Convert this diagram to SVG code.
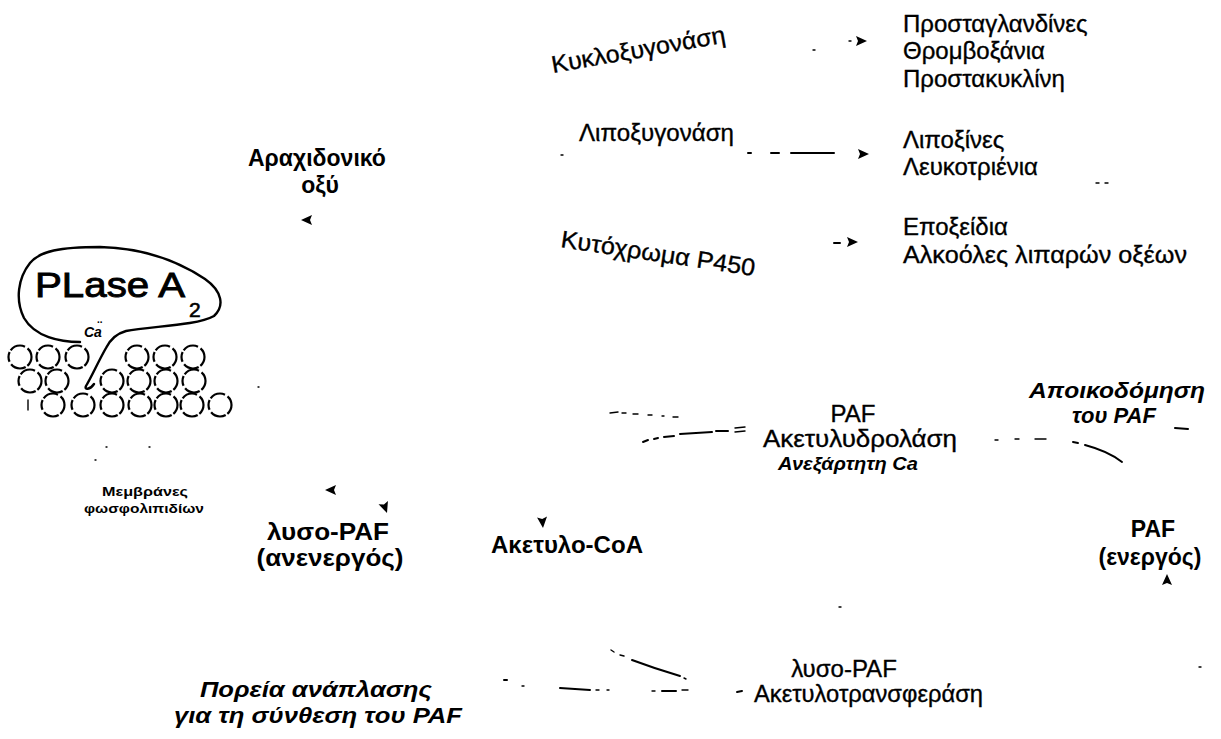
<svg xmlns="http://www.w3.org/2000/svg" width="1221" height="739" viewBox="0 0 1221 739">
  <defs>
    <style>
      .t { font-family: "Liberation Sans", Arial, "DejaVu Sans", sans-serif; fill: #000; }
      .r { font-size: 24px; stroke: #000; stroke-width: 0.35; }
      .b { font-size: 23px; font-weight: bold; }
      .bi { font-size: 22px; font-weight: bold; font-style: italic; }
      .sm { font-size: 13px; font-weight: bold; }
      .dash { stroke: #000; stroke-width: 2; fill: none; stroke-linecap: round; }
      .thin { stroke: #000; stroke-width: 1.4; fill: none; stroke-linecap: round; }
      .cell { stroke: #000; stroke-width: 2.2; fill: none; stroke-dasharray: 10 2 16 3; }
      .blob { stroke: #000; stroke-width: 2.4; fill: none; stroke-linecap: round; stroke-linejoin: round; }
    </style>
    <!-- small solid arrowhead, tip at origin pointing along +x -->
    <path id="ah" d="M0,0 L-11,-5 L-9,0 L-11,5 Z" fill="#000"/>
  </defs>

  <rect width="1221" height="739" fill="#fff"/>

  <!-- phospholipase A2 sitting on the membrane bilayer -->
  <g id="plase">
    <path class="blob" d="M80,342 C60,342 35,337 24,318 C15,300 18,278 30,263 C40,251 60,247 100,247 C140,248 175,259 205,279 C222,291 225,306 214,316 C196,326 150,326 126,331 C115,334 110,340 106,348 C98,362 92,376 86,386 C84,390 90,390 94,384"/>
    <text class="t" x="35" y="297" font-size="35" stroke="#000" stroke-width="0.9" textLength="150" lengthAdjust="spacingAndGlyphs">PLase A</text>
    <text class="t" x="189" y="317" font-size="21" stroke="#000" stroke-width="0.6">2</text>
    <text class="t" x="84" y="337" font-size="14" font-weight="bold" font-style="italic">Ca</text>
    <text class="t" x="97" y="323" font-size="10" font-weight="bold">..</text>
  </g>

  <g id="membrane">
    <circle class="cell" cx="20" cy="357" r="11.5"/>
    <circle class="cell" cx="48" cy="357" r="11.5"/>
    <circle class="cell" cx="77" cy="357" r="11.5"/>
    <circle class="cell" cx="137" cy="357" r="11.5"/>
    <circle class="cell" cx="165" cy="357" r="11.5"/>
    <circle class="cell" cx="193" cy="357" r="11.5"/>
    <circle class="cell" cx="30" cy="381" r="11.5"/>
    <circle class="cell" cx="57" cy="381" r="11.5"/>
    <circle class="cell" cx="112" cy="381" r="11.5"/>
    <circle class="cell" cx="139" cy="381" r="11.5"/>
    <circle class="cell" cx="166" cy="381" r="11.5"/>
    <circle class="cell" cx="194" cy="381" r="11.5"/>
    <circle class="cell" cx="53" cy="405" r="11.5"/>
    <circle class="cell" cx="83" cy="405" r="11.5"/>
    <circle class="cell" cx="112" cy="405" r="11.5"/>
    <circle class="cell" cx="140" cy="405" r="11.5"/>
    <circle class="cell" cx="166" cy="405" r="11.5"/>
    <circle class="cell" cx="192" cy="405" r="11.5"/>
    <circle class="cell" cx="220" cy="405" r="11.5"/>
    <line class="thin" x1="28" y1="400" x2="28" y2="410"/>
  </g>

  <g id="membranes-label">
    <text class="t sm" x="145" y="496" text-anchor="middle" textLength="86" lengthAdjust="spacingAndGlyphs">Μεμβράνες</text>
    <text class="t sm" x="144" y="513" text-anchor="middle" textLength="120" lengthAdjust="spacingAndGlyphs">φωσφολιπιδίων</text>
  </g>

  <g id="arachidonic">
    <text class="t b" x="248" y="166">Αραχιδονικό</text>
    <text class="t b" x="320" y="193" text-anchor="middle">οξύ</text>
  </g>

  <g id="cox">
    <text class="t r" transform="translate(553,73) rotate(-10)" textLength="176" lengthAdjust="spacingAndGlyphs">Κυκλοξυγονάση</text>
  </g>
  <g id="lox">
    <text class="t r" x="579" y="141" textLength="155" lengthAdjust="spacingAndGlyphs">Λιποξυγονάση</text>
  </g>
  <g id="p450">
    <text class="t r" transform="translate(560,247) rotate(8.5)" textLength="196" lengthAdjust="spacingAndGlyphs">Κυτόχρωμα P450</text>
  </g>

  <g id="cox-products">
    <text class="t r" x="903" y="32">Προσταγλανδίνες</text>
    <text class="t r" x="903" y="59">Θρομβοξάνια</text>
    <text class="t r" x="903" y="87">Προστακυκλίνη</text>
  </g>
  <g id="lox-products">
    <text class="t r" x="903" y="148">Λιποξίνες</text>
    <text class="t r" x="903" y="175">Λευκοτριένια</text>
  </g>
  <g id="p450-products">
    <text class="t r" x="903" y="235">Εποξείδια</text>
    <text class="t r" x="903" y="263" textLength="284" lengthAdjust="spacingAndGlyphs">Αλκοόλες λιπαρών οξέων</text>
  </g>

  <g id="lyso-paf">
    <text class="t b" x="328" y="540" text-anchor="middle" textLength="122" lengthAdjust="spacingAndGlyphs">λυσο-PAF</text>
    <text class="t b" x="330" y="566" text-anchor="middle" textLength="147" lengthAdjust="spacingAndGlyphs">(ανενεργός)</text>
  </g>

  <g id="acetyl-coa">
    <text class="t b" x="491" y="553" textLength="152" lengthAdjust="spacingAndGlyphs">Ακετυλο-CoA</text>
  </g>

  <g id="paf-hydrolase">
    <text class="t r" x="853" y="422" text-anchor="middle" font-size="23">PAF</text>
    <text class="t r" x="763" y="447" textLength="194" lengthAdjust="spacingAndGlyphs">Ακετυλυδρολάση</text>
    <text class="t" x="778" y="470" font-size="18" font-weight="bold" font-style="italic" textLength="140" lengthAdjust="spacingAndGlyphs">Ανεξάρτητη Ca</text>
  </g>

  <g id="paf-degradation">
    <text class="t bi" x="1117" y="398" text-anchor="middle" textLength="176" lengthAdjust="spacingAndGlyphs">Αποικοδόμηση</text>
    <text class="t bi" x="1114" y="423" text-anchor="middle">του PAF</text>
  </g>

  <g id="paf-active">
    <text class="t b" x="1153" y="537" text-anchor="middle">PAF</text>
    <text class="t b" x="1150" y="565" text-anchor="middle">(ενεργός)</text>
  </g>

  <g id="acetyltransferase">
    <text class="t r" x="844" y="677" text-anchor="middle" font-size="21">λυσο-PAF</text>
    <text class="t r" x="754" y="702" font-size="22" textLength="229" lengthAdjust="spacingAndGlyphs">Ακετυλοτρανσφεράση</text>
  </g>

  <g id="remodeling-label">
    <text class="t bi" x="316" y="697" text-anchor="middle" textLength="232" lengthAdjust="spacingAndGlyphs">Πορεία ανάπλασης</text>
    <text class="t bi" x="318" y="723" text-anchor="middle" textLength="288" lengthAdjust="spacingAndGlyphs">για τη σύνθεση του PAF</text>
  </g>

  <!-- connectors: broken dashed strokes and small arrowheads -->
  <g id="connectors">
    <!-- cyclooxygenase branch -->
    <line class="thin" x1="813" y1="50" x2="815" y2="50"/>
    <line class="thin" x1="849" y1="41" x2="851" y2="41"/>
    <use href="#ah" transform="translate(867,41)"/>
    <!-- lipoxygenase branch -->
    <line class="thin" x1="561" y1="155" x2="563" y2="155"/>
    <line class="dash" x1="748" y1="153" x2="751" y2="153"/>
    <line class="dash" x1="771" y1="153" x2="779" y2="153"/>
    <line class="dash" x1="791" y1="153" x2="834" y2="153"/>
    <use href="#ah" transform="translate(869,154)"/>
    <line class="thin" x1="1096" y1="183" x2="1099" y2="183"/>
    <line class="thin" x1="1105" y1="183" x2="1108" y2="183"/>
    <!-- cytochrome P450 branch -->
    <line class="dash" x1="834" y1="243" x2="840" y2="243"/>
    <use href="#ah" transform="translate(858,242)"/>
    <!-- arachidonic acid release -->
    <use href="#ah" transform="translate(301,220) rotate(180)"/>
    <!-- hydrolase inputs -->
    <line class="thin" x1="610" y1="413" x2="618" y2="412"/>
    <line class="thin" x1="622" y1="413" x2="626" y2="413"/>
    <line class="thin" x1="633" y1="414" x2="638" y2="414"/>
    <line class="thin" x1="648" y1="415" x2="652" y2="415"/>
    <line class="thin" x1="662" y1="416" x2="664" y2="416"/>
    <line class="thin" x1="673" y1="417" x2="678" y2="417"/>
    <path class="dash" d="M643,442 L648,440"/>
    <path class="dash" d="M654,439 L658,438"/>
    <path class="dash" d="M664,437 L674,436"/>
    <path class="dash" d="M680,434 L712,432"/>
    <path class="dash" d="M716,431 L728,431"/>
    <line class="thin" x1="735" y1="428" x2="745" y2="427"/>
    <line class="thin" x1="735" y1="432" x2="745" y2="431"/>
    <!-- hydrolase output -->
    <line class="thin" x1="995" y1="440" x2="998" y2="440"/>
    <line class="thin" x1="1015" y1="439" x2="1019" y2="439"/>
    <line class="thin" x1="1035" y1="439" x2="1046" y2="439"/>
    <path class="dash" d="M1073,442 L1078,443 M1085,445 C1100,449 1112,454 1122,462"/>
    <path class="dash" d="M1175,428 L1188,429" stroke-width="3"/>
    <!-- active PAF -->
    <use href="#ah" transform="translate(1167,574) rotate(-90)"/>
    <!-- lyso-PAF / acetyl-CoA -->
    <use href="#ah" transform="translate(325,490) rotate(180)"/>
    <use href="#ah" transform="translate(387,513) rotate(70)"/>
    <use href="#ah" transform="translate(543,528) rotate(85)"/>
    <line class="thin" x1="839" y1="607" x2="841" y2="607"/>
    <!-- acetyltransferase inputs -->
    <line class="thin" x1="611" y1="650" x2="614" y2="652"/>
    <line class="thin" x1="620" y1="655" x2="624" y2="656"/>
    <path class="dash" d="M632,660 C648,666 663,671 680,676"/>
    <line class="thin" x1="684" y1="678" x2="686" y2="679"/>
    <line class="dash" x1="504" y1="680" x2="507" y2="680"/>
    <line class="thin" x1="522" y1="686" x2="524" y2="686"/>
    <line class="dash" x1="560" y1="688" x2="590" y2="690"/>
    <line class="thin" x1="596" y1="690" x2="599" y2="690"/>
    <line class="thin" x1="607" y1="690" x2="609" y2="690"/>
    <line class="thin" x1="652" y1="691" x2="655" y2="691"/>
    <line class="dash" x1="662" y1="691" x2="676" y2="691"/>
    <line class="thin" x1="682" y1="690" x2="688" y2="690"/>
    <line class="dash" x1="737" y1="692" x2="742" y2="691"/>
    <line class="thin" x1="1199" y1="667" x2="1201" y2="667"/>
    <!-- stray specks near the membrane -->
    <line class="thin" x1="106" y1="447" x2="107" y2="447"/>
    <line class="thin" x1="149" y1="447" x2="150" y2="447"/>
    <line class="thin" x1="95" y1="460" x2="96" y2="460"/>
    <line class="thin" x1="258" y1="387" x2="259" y2="387"/>
  </g>
</svg>
